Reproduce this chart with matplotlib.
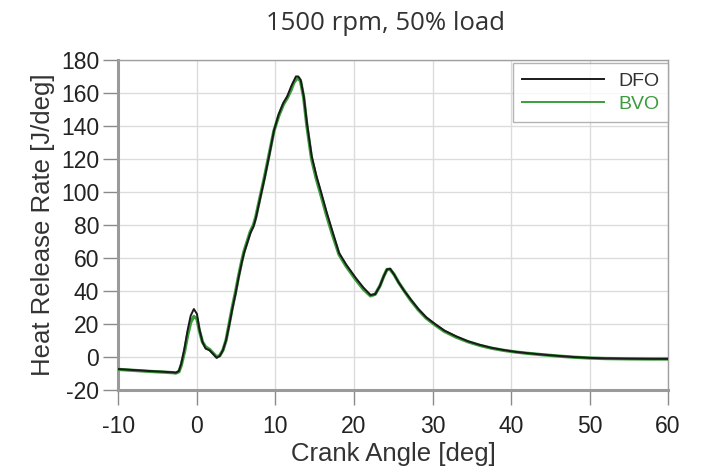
import matplotlib.pyplot as plt

# crank angle [deg] and heat release rate [J/deg]
crank_angle = [-10, -8, -6, -4, -3, -2.7, -2.3, -2.0, -1.6, -1.2, -0.8, -0.4, 0.0, 0.3, 0.7,
               1.1, 1.6, 2.1, 2.5, 2.9, 3.3, 3.7, 4.1, 4.5, 4.9, 5.3, 5.7, 6.0, 6.4, 6.8,
               7.2, 7.5, 8.0, 8.6, 9.2, 9.8, 10.4, 11.0, 11.5, 12.0, 12.3, 12.6, 12.9, 13.2, 13.6,
               14.0, 14.6, 15.2, 15.8, 16.5, 17.2, 18.1, 19.0, 20.2, 21.2, 22.1, 22.7, 23.3, 23.8, 24.2,
               24.6, 25.1, 25.7, 26.4, 27.2, 28.2, 29.2, 30.3, 31.5, 33.0, 34.5, 36.0, 37.5, 39.0, 40.5,
               42.0, 44.0, 46.0, 48.0, 50.0, 52.0, 55.0, 58.0, 60.0]

hrr_dfo = [-7.4, -8.0, -8.6, -9.1, -9.4, -9.6, -8.5, -4, 5, 16, 25, 29, 26, 17, 9,
           5, 4, 1.5, -0.6, 0.5, 4, 10, 19, 29, 38, 48, 57, 63, 69, 75,
           79, 84, 95, 108, 122, 137, 147, 154, 158, 164, 167, 170, 170, 168, 158,
           142, 122, 110, 100, 88, 77, 63, 56, 48, 42, 37.5, 38, 43, 49, 53,
           53.5, 50, 45, 40, 35, 29, 24, 20, 16, 12.5, 9.5, 7.3, 5.5, 4.2, 3.1,
           2.3, 1.4, 0.6, -0.1, -0.6, -0.9, -1.1, -1.2, -1.2]

hrr_bvo = [-7.6, -8.2, -8.8, -9.3, -9.6, -9.8, -9.0, -5, 3, 13, 21, 24.5, 23, 16, 9,
           6, 4.5, 2, 0, 0.8, 4, 10, 20, 30, 39, 49, 58, 64, 70, 76,
           80, 85, 96, 109, 123, 137, 146, 153, 157, 162, 166, 168, 169, 167, 157,
           140, 120, 108, 98, 86, 75, 62, 55, 47, 41, 37, 38, 43, 49, 53,
           53, 50, 45, 40, 34.5, 28.5, 23.5, 19.5, 15.5, 12, 9.2, 7, 5.3, 4, 3,
           2.2, 1.3, 0.5, -0.2, -0.7, -1.0, -1.2, -1.3, -1.3]

x_ticks = [-10, 0, 10, 20, 30, 40, 50, 60]
y_ticks = [-20, 0, 20, 40, 60, 80, 100, 120, 140, 160, 180]

plt.rcParams['font.family'] = ['Liberation Sans', 'DejaVu Sans']
plt.rcParams['axes.unicode_minus'] = False

fig = plt.figure(figsize=(7.01, 4.72), dpi=100)
ax = fig.add_axes([0.169, 0.174, 0.784, 0.699])

ax.plot(crank_angle, hrr_bvo, color='#3c9c3c', lw=2.4, label='BVO', zorder=3)
ax.plot(crank_angle, hrr_dfo, color='#1a1a1a', lw=1.4, label='DFO', zorder=4)

ax.set_xlim(-10, 60)
ax.set_ylim(-20, 180)
ax.set_xticks(x_ticks)
ax.set_yticks(y_ticks)
ax.grid(True, color='#dcdcdc', lw=1.0)
ax.set_axisbelow(True)

for side in ['top', 'right']:
    ax.spines[side].set_color('#a0a0a0')
    ax.spines[side].set_linewidth(1.0)
for side in ['left', 'bottom']:
    ax.spines[side].set_color('#9a9a9a')
    ax.spines[side].set_linewidth(2.2)

ax.tick_params(direction='out', length=11, width=1, color='#8a8a8a',
               labelsize=16.5, labelcolor='#222222')
ax.tick_params(axis='x', pad=7)
ax.tick_params(axis='y', pad=3)

ax.set_xlabel('Crank Angle [deg]', fontsize=18.5, color='#333333', labelpad=3)
ax.set_ylabel('Heat Release Rate [J/deg]', fontsize=18.5, color='#333333', labelpad=4)

fig.text(385 / 701, 1 - 24 / 472, '1500 rpm, 50% load', ha='center', va='center',
         fontsize=18.5, family='Open Sans', color='#333333')

handles, labels = ax.get_legend_handles_labels()
leg = ax.legend(handles[::-1], labels[::-1], loc='upper right', bbox_to_anchor=(1.0, 0.99),
                borderaxespad=0, fancybox=False, fontsize=14, handlelength=4.2,
                handletextpad=0.75, borderpad=0.45, labelspacing=0.3)
leg.get_frame().set_edgecolor('#a0a0a0')
leg.get_frame().set_linewidth(1.0)
for txt, col in zip(leg.get_texts(), ['#333333', '#3c9c3c']):
    txt.set_color(col)
for line in leg.get_lines():
    line.set_linewidth(1.4)

fig.savefig('out.png', dpi=100)
